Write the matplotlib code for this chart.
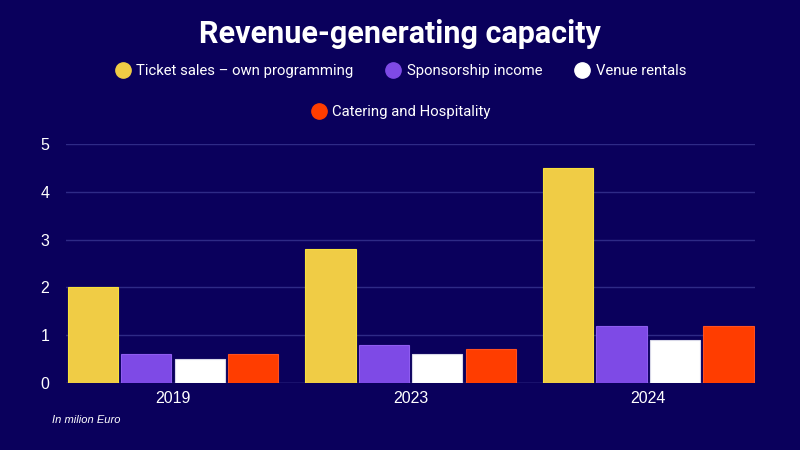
import matplotlib.pyplot as plt
from matplotlib.lines import Line2D
import numpy as np

years = ["2019", "2023", "2024"]
series_names = ["Ticket sales – own programming", "Sponsorship income",
                "Venue rentals", "Catering and Hospitality"]
ticket_sales = [2.0, 2.8, 4.5]
sponsorship = [0.6, 0.8, 1.2]
venue_rentals = [0.5, 0.6, 0.9]
catering = [0.6, 0.7, 1.2]

colors = ["#f0cc45", "#7e4ae6", "#ffffff", "#ff3d00"]
edges = ["#f7e03a", "#8f5cf0", "#d8d8e8", "#ff5020"]
bg = "#0a005c"

plt.rcParams["font.family"] = ["Liberation Sans", "DejaVu Sans"]

fig = plt.figure(figsize=(8, 4.5), dpi=100, facecolor=bg)
ax = fig.add_axes([0.0825, 0.149, 0.8615, 0.531])
ax.set_facecolor(bg)

x = np.arange(len(years))
w = 0.225
values = [ticket_sales, sponsorship, venue_rentals, catering]
for i, vals in enumerate(values):
    ax.bar(x + (i - 1.5) * w, vals, width=w * 0.94, color=colors[i],
           edgecolor=edges[i], linewidth=0.8, zorder=3)

ax.set_xlim(-0.45, 2.45)
ax.set_ylim(0, 5)
ax.set_yticks([0, 1, 2, 3, 4, 5])
ax.set_xticks(x)
ax.set_xticklabels(years)
ax.grid(axis="y", color="#2e2a86", linewidth=1, zorder=0)
for s in ax.spines.values():
    s.set_visible(False)
ax.axhline(0, color="#3a3690", linewidth=1, zorder=2)
ax.tick_params(length=0, colors="white", labelsize=11.5)
ax.tick_params(axis="y", pad=12)
ax.tick_params(axis="x", pad=6)

title_font = ["Roboto", "DejaVu Sans"]
fig.text(0.5, 0.925, "Revenue-generating capacity", ha="center", va="center",
         color="white", fontsize=22, fontweight="bold", family=title_font)

def handle(c):
    return Line2D([], [], marker="o", linestyle="none", markersize=11,
                  markerfacecolor=c, markeredgecolor=c)

leg_prop = {"family": title_font, "size": 10.7}
leg1 = fig.legend([handle(c) for c in colors[:3]], series_names[:3],
                  loc="center", bbox_to_anchor=(0.5, 0.842), ncol=3,
                  frameon=False, handletextpad=0.3, columnspacing=2.1,
                  handlelength=1.2, prop=leg_prop)
leg2 = fig.legend([handle(colors[3])], series_names[3:],
                  loc="center", bbox_to_anchor=(0.5, 0.751), ncol=1,
                  frameon=False, handletextpad=0.3, handlelength=1.2,
                  prop=leg_prop)
for leg in (leg1, leg2):
    for t in leg.get_texts():
        t.set_color("white")

fig.text(0.065, 0.067, "In milion Euro", color="white", fontsize=8,
         style="italic", ha="left", va="center")

fig.savefig("out.png", dpi=100, facecolor=bg)
